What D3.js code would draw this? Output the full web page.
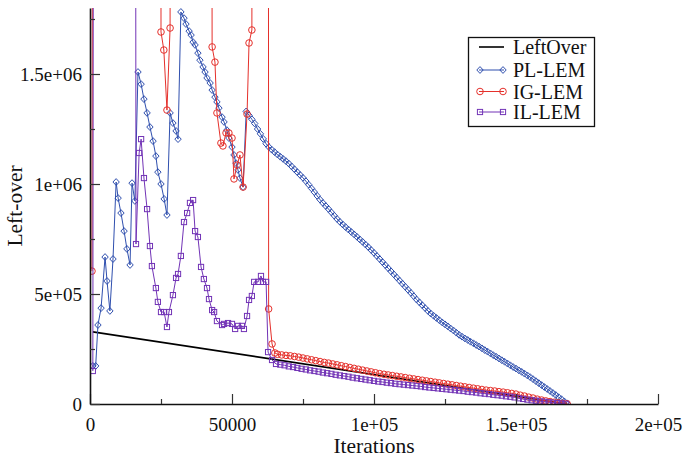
<!DOCTYPE html>
<html>
<head>
<meta charset="utf-8">
<script src="https://cdn.jsdelivr.net/npm/d3@7"></script>
<style>
  body { margin: 0; background: #fff; }
  text { font-family: "Liberation Serif", "DejaVu Serif", serif; fill: #111; }
</style>
</head>
<body>
<script>
// all values in thousands (iterations, left-over)
const xTicks = [0, 50, 100, 150, 200]
const xTickLabels = ["0", "50000", "1e+05", "1.5e+05", "2e+05"]
const xMinor = [25, 75, 125, 175]
const yTicks = [0, 500, 1000, 1500]
const yTickLabels = ["0", "5e+05", "1e+06", "1.5e+06"]
const yMinor = [250, 750, 1250, 1750]

const seriesNames = ["LeftOver", "PL-LEM", "IG-LEM", "IL-LEM"]

const leftOver = [[1, 328], [168, 0]]

const plHead = [[1, 173], [2, 173], [2.8, 359], [3.9, 436], [5.3, 668], [6, 559], [7, 423], [8.1, 659],
  [9.2, 1009], [9.9, 936], [10.9, 868], [12, 786], [13, 705], [14.1, 632], [14.8, 1004], [15.8, 923],
  [16.9, 1509], [18, 1454], [19, 1386], [20.1, 1323], [21.1, 1259], [22.2, 1195], [23.2, 1127],
  [23.9, 1054], [25, 1000], [26.1, 932], [27.1, 859], [28.2, 1323], [29.2, 1277], [30.3, 1241],
  [31, 1204], [32, 1782], [33.1, 1754], [33.8, 1727], [34.9, 1695], [35.6, 1677], [36.3, 1645],
  [37, 1632], [38, 1595], [38.7, 1563], [39.8, 1532], [40.5, 1509], [41.2, 1482], [42.3, 1459],
  [43, 1427], [44, 1395], [44.7, 1373], [45.4, 1345], [46.5, 1304], [47.2, 1282], [48.2, 1245],
  [48.9, 1209], [50, 1168], [50.7, 1132], [51.4, 1095], [52.1, 1064], [52.8, 1027], [53.9, 986]]
// sampled every 1000 iterations from 55000
const plTailStart = 55, plTailStep = 1
const plTail = [1330, 1312, 1294, 1275, 1250, 1228, 1205, 1183, 1168, 1156,
  1145, 1134, 1124, 1114, 1104, 1093, 1080, 1067, 1054, 1041,
  1028, 1013, 997, 980, 963, 946, 929, 914, 900, 886,
  871, 856, 841, 828, 816, 804, 793, 782, 771, 760,
  748, 737, 725, 713, 700, 687, 673, 659, 645, 631,
  617, 603, 589, 575, 561, 547, 533, 519, 505, 490,
  475, 462, 449, 436, 423, 411, 401, 391, 381, 371,
  362, 353, 343, 334, 324, 314, 306, 298, 291, 283,
  276, 268, 261, 253, 245, 238, 230, 222, 215, 207,
  199, 192, 184, 176, 168, 161, 153, 146, 138, 130,
  122, 113, 104, 95, 86, 77, 68, 59, 50, 41,
  31, 22, 12, 3]

const igHead = [[0.7, 604], [1.2, 6000], [24.8, 6000], [25, 1691], [26, 1609], [27.1, 1336], [28.2, 1709],
  [28.5, 6000], [42.6, 6000], [43, 1623], [44, 1554], [44.7, 1323], [46.1, 1186], [46.8, 1173],
  [47.9, 1232], [48.9, 1232], [50, 1209], [50.7, 1023], [51.8, 1086], [52.8, 1132], [53.9, 986],
  [55.3, 1318], [56, 1641], [57, 1700], [57.3, 6000], [62.7, 6000], [62.9, 432], [64.1, 273], [65.1, 232]]
const igTailStart = 66, igTailStep = 1.5
const igTail = [226, 223, 221, 219, 216, 213, 209, 205, 201, 197,
  193, 189, 186, 182, 178, 174, 170, 166, 162, 158,
  154, 150, 146, 142, 138, 135, 132, 129, 126, 123,
  120, 117, 114, 111, 108, 105, 102, 99, 96, 93,
  90, 87, 84, 81, 78, 75, 72, 69, 66, 63,
  61, 59, 56, 54, 51, 48, 45, 40, 36, 31,
  27, 22, 18, 14, 11, 8, 5, 3, 1]

const ilHead = [[1, 150], [1.5, 6000], [15.8, 6000], [16.2, 727], [17.3, 1141], [18, 1204], [19, 1027],
  [20.1, 886], [21.1, 718], [21.8, 627], [23.2, 527], [23.9, 464], [25, 418], [26.1, 418], [27.1, 350],
  [27.8, 418], [29.2, 495], [30.3, 573], [31, 591], [32, 673], [33.1, 827], [34.2, 868], [35.2, 914],
  [36.3, 927], [37, 786], [38, 759], [39.1, 623], [40.1, 568], [41.2, 527], [41.9, 477], [43, 427],
  [43.7, 418], [44.7, 377], [46.5, 359], [47.2, 364], [48.6, 368], [50, 364], [51.1, 341], [52.1, 355],
  [53.5, 355], [54.2, 341], [55.3, 400], [56, 473], [57, 491], [57.8, 555], [59.2, 555], [60.2, 582],
  [60.9, 555], [62, 555], [62.7, 236], [64.1, 200]]
const ilTailStart = 65.5, ilTailStep = 1.5
const ilTail = [182, 179, 176, 171, 168, 164, 160, 157, 153, 150,
  147, 143, 140, 137, 133, 130, 127, 124, 120, 117,
  114, 111, 108, 105, 102, 100, 97, 95, 92, 90,
  88, 86, 84, 82, 80, 77, 75, 73, 71, 69,
  67, 65, 63, 61, 59, 56, 54, 52, 49, 47,
  45, 42, 40, 38, 35, 33, 30, 26, 23, 20,
  17, 15, 12, 10, 8, 6, 4, 2, 1]

const withTail = (head, start, step, tail) =>
  head.concat(tail.map((v, i) => [start + i * step, v]))

const plData = withTail(plHead, plTailStart, plTailStep, plTail)
const igData = withTail(igHead, igTailStart, igTailStep, igTail)
const ilData = withTail(ilHead, ilTailStart, ilTailStep, ilTail)

const W = 684, H = 462
const plotLeft = 90, plotRight = 658, plotTop = 8, plotBottom = 404

const x = d3.scaleLinear().domain([0, 200]).range([plotLeft, plotRight])
const y = d3.scaleLinear().domain([0, 1800]).range([plotBottom, plotTop])

const svg = d3.select("body").append("svg").attr("width", W).attr("height", H)

svg.append("clipPath").attr("id", "plotClip")
  .append("rect").attr("x", plotLeft).attr("y", plotTop)
  .attr("width", plotRight - plotLeft).attr("height", plotBottom - plotTop)

const plot = svg.append("g").attr("clip-path", "url(#plotClip)")

const line = d3.line().x(d => x(d[0])).y(d => y(d[1]))

const series = [
  { name: seriesNames[0], data: leftOver, color: "#000000", marker: null, width: 1.6 },
  { name: seriesNames[1], data: plData, color: "#2f4fae", marker: "diamond", width: 1 },
  { name: seriesNames[2], data: igData, color: "#e5302b", marker: "circle", width: 1 },
  { name: seriesNames[3], data: ilData, color: "#7233b6", marker: "square", width: 1 }
]

function drawMarker(g, kind, color) {
  if (kind === "diamond") {
    g.append("path").attr("d", "M0,-3.4L3.2,0L0,3.4L-3.2,0Z")
      .attr("fill", "none").attr("stroke", color).attr("stroke-width", 1)
  } else if (kind === "circle") {
    g.append("circle").attr("r", 3.3)
      .attr("fill", "none").attr("stroke", color).attr("stroke-width", 1)
  } else if (kind === "square") {
    g.append("rect").attr("x", -2.6).attr("y", -2.6).attr("width", 5.2).attr("height", 5.2)
      .attr("fill", "none").attr("stroke", color).attr("stroke-width", 1)
  }
}

series.forEach(s => {
  plot.append("path")
    .datum(s.data)
    .attr("d", line)
    .attr("fill", "none")
    .attr("stroke", s.color)
    .attr("stroke-width", s.width)

  if (s.marker) {
    plot.append("g")
      .selectAll("g")
      .data(s.data.filter(d => d[1] <= 1850))
      .enter()
      .append("g")
      .attr("transform", d => `translate(${x(d[0])},${y(d[1])})`)
      .each(function() { drawMarker(d3.select(this), s.marker, s.color) })
  }
})

// axes, ticks point inward
const xAxis = d3.axisBottom(x)
  .tickValues(xTicks)
  .tickFormat((d, i) => xTickLabels[i])
  .tickSizeInner(-10)
  .tickSizeOuter(0)
  .tickPadding(14)

const yAxis = d3.axisLeft(y)
  .tickValues(yTicks)
  .tickFormat((d, i) => yTickLabels[i])
  .tickSizeInner(-10)
  .tickSizeOuter(0)
  .tickPadding(8)

const gx = svg.append("g").attr("transform", `translate(0,${plotBottom})`).call(xAxis)
const gy = svg.append("g").attr("transform", `translate(${plotLeft},0)`).call(yAxis)

svg.append("g").attr("transform", `translate(0,${plotBottom})`)
  .call(d3.axisBottom(x).tickValues(xMinor).tickFormat("").tickSizeInner(-5).tickSizeOuter(0))
  .select(".domain").remove()
svg.append("g").attr("transform", `translate(${plotLeft},0)`)
  .call(d3.axisLeft(y).tickValues(yMinor).tickFormat("").tickSizeInner(-5).tickSizeOuter(0))
  .select(".domain").remove()

svg.selectAll(".domain").attr("stroke", "#111").attr("stroke-width", 1.6)
svg.selectAll(".tick line").attr("stroke", "#333").attr("stroke-width", 1.2)
gx.selectAll(".tick text").style("font-family", "Liberation Serif").style("font-size", "19px").attr("fill", "#111")
gy.selectAll(".tick text").style("font-family", "Liberation Serif").style("font-size", "19px").attr("fill", "#111")

svg.append("text")
  .attr("x", (plotLeft + plotRight) / 2)
  .attr("y", 453)
  .attr("text-anchor", "middle")
  .style("font-size", "21.5px")
  .text("Iterations")

svg.append("text")
  .attr("transform", `translate(22,${(plotTop + plotBottom) / 2}) rotate(-90)`)
  .attr("text-anchor", "middle")
  .style("font-size", "21.5px")
  .text("Left-over")

// legend
const legend = svg.append("g")
legend.append("rect")
  .attr("x", 468.5).attr("y", 37.5).attr("width", 126).attr("height", 89)
  .attr("fill", "#fff").attr("stroke", "#111").attr("stroke-width", 1.3)

const rowY = [47, 70, 91.5, 112]
series.forEach((s, i) => {
  const row = legend.append("g").attr("transform", `translate(0,${rowY[i]})`)
  row.append("line").attr("x1", 479).attr("x2", 504).attr("y1", 0).attr("y2", 0)
    .attr("stroke", s.color).attr("stroke-width", s.width)
  if (s.marker) {
    [480, 503].forEach(px => {
      drawMarker(row.append("g").attr("transform", `translate(${px},0)`), s.marker, s.color)
    })
  }
  row.append("text")
    .attr("x", 513).attr("y", 7)
    .style("font-size", "20px")
    .text(s.name)
})
</script>
</body>
</html>
